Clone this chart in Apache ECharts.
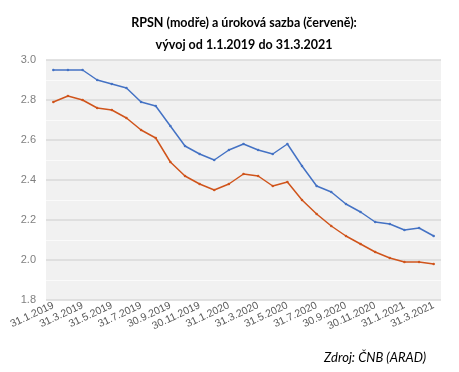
<!DOCTYPE html>
<html><head><meta charset="utf-8">
<script src="https://cdn.jsdelivr.net/npm/echarts@6/dist/echarts.min.js"></script>
<style>html,body{margin:0;padding:0;background:#fff}#c{width:459px;height:372px}</style>
</head><body><div id="c"></div>
<script>
const categories = ["31.1.2019","28.2.2019","31.3.2019","30.4.2019","31.5.2019","30.6.2019","31.7.2019","31.8.2019","30.9.2019","31.10.2019","30.11.2019","31.12.2019","31.1.2020","29.2.2020","31.3.2020","30.4.2020","31.5.2020","30.6.2020","31.7.2020","31.8.2020","30.9.2020","31.10.2020","30.11.2020","31.12.2020","31.1.2021","28.2.2021","31.3.2021"];
const rpsn = [2.95,2.95,2.95,2.90,2.88,2.86,2.79,2.77,2.67,2.57,2.53,2.50,2.55,2.58,2.55,2.53,2.58,2.47,2.37,2.34,2.28,2.24,2.19,2.18,2.15,2.16,2.12];
const sazba = [2.79,2.82,2.80,2.76,2.75,2.71,2.65,2.61,2.49,2.42,2.38,2.35,2.38,2.43,2.42,2.37,2.39,2.30,2.23,2.17,2.12,2.08,2.04,2.01,1.99,1.99,1.98];
const titleLines = ["RPSN (modře) a úroková sazba (červeně):", "vývoj od 1.1.2019 do 31.3.2021"];
const sourceText = "Zdroj: ČNB (ARAD)";

const chart = echarts.init(document.getElementById('c'));
chart.setOption({
  animation:false,
  backgroundColor:'#fff',
  title:[
    {text:titleLines[0]+'\n'+titleLines[1], left:239, top:7, textAlign:'center',
     textStyle:{fontFamily:'Lato',fontWeight:'bold',fontSize:12.5,color:'#000',lineHeight:22}},
    {text:sourceText, right:28, top:346,
     textStyle:{fontFamily:'Lato',fontStyle:'italic',fontWeight:'normal',fontSize:13,color:'#000'}}
  ],
  grid:{left:46, right:18, top:60, bottom:72},
  xAxis:{type:'category', data:categories, boundaryGap:true,
    axisLine:{show:false}, axisTick:{show:false},
    axisLabel:{interval:1, rotate:25, fontFamily:'Liberation Sans', fontSize:10.5, color:'#595959', margin:5}
  },
  yAxis:{type:'value', min:1.8, max:3.0, interval:0.2,
    axisLine:{show:false}, axisTick:{show:false},
    axisLabel:{formatter:v=>v.toFixed(1), fontFamily:'Liberation Sans', fontSize:11, color:'#7f7f7f', margin:10},
    splitLine:{lineStyle:{color:'#d9d9d9',width:1.5}},
    minorTick:{show:false, splitNumber:2},
    minorSplitLine:{show:true, lineStyle:{color:'#fafafa',width:1}},
    splitArea:{show:true, areaStyle:{color:['#f1f1f1','#f1f1f1']}}
  },
  series:[
    {type:'line', data:rpsn, symbol:'circle', symbolSize:2.5, itemStyle:{color:'#4472c4'}, lineStyle:{color:'#4472c4',width:1.5}},
    {type:'line', data:sazba, symbol:'circle', symbolSize:2.5, itemStyle:{color:'#d0541b'}, lineStyle:{color:'#d0541b',width:1.5}}
  ]
});
</script></body></html>
